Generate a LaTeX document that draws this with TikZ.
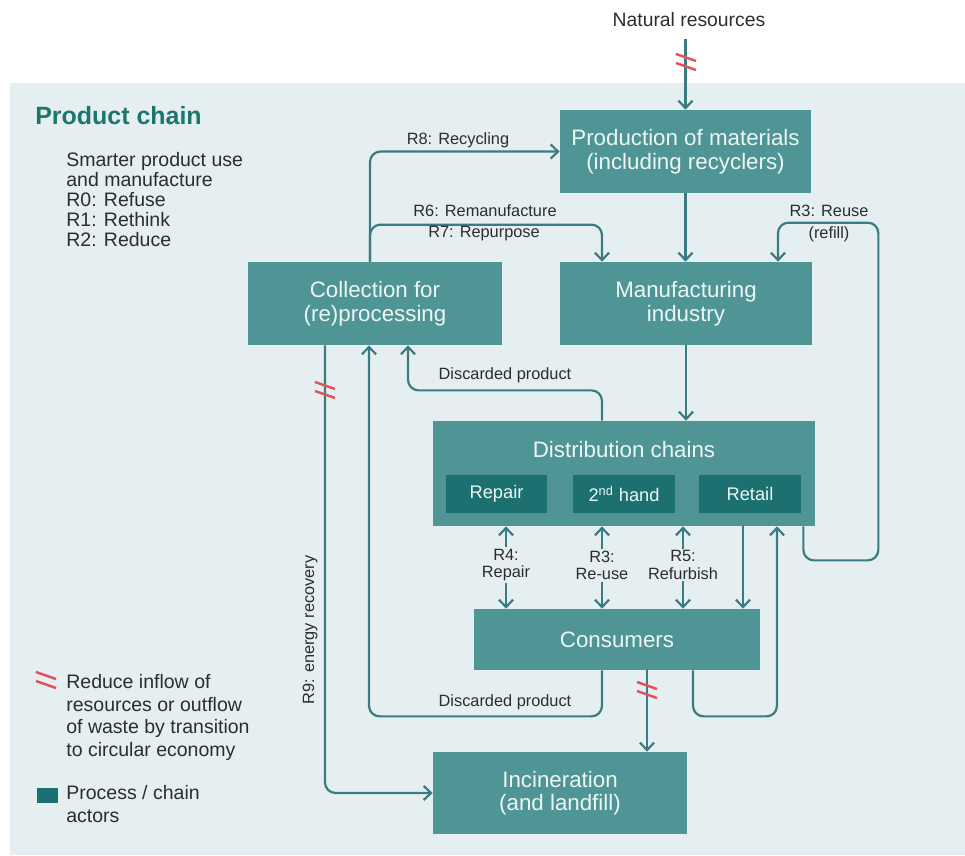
\documentclass[tikz,border=0pt]{standalone}
\usepackage{fontspec}
\setmainfont{Liberation Sans}
\usetikzlibrary{arrows.meta,calc}

\definecolor{panelbg}{RGB}{229,238,240}
\definecolor{boxteal}{RGB}{80,149,150}
\definecolor{darkteal}{RGB}{28,112,112}
\definecolor{flowcol}{RGB}{58,124,130}
\definecolor{cutred}{RGB}{226,82,92}
\definecolor{txtgray}{RGB}{45,45,45}
\definecolor{boxtxt}{RGB}{236,246,244}
\definecolor{titleteal}{RGB}{28,118,108}

\tikzset{
  box/.style={fill=boxteal, text=boxtxt, align=center, inner sep=0pt, font=\fontsize{12.7}{13.4}\selectfont},
  subbox/.style={fill=darkteal, text=boxtxt, inner sep=0pt, minimum width=2.03cm, minimum height=0.76cm, font=\fontsize{10.4}{12}\selectfont},
  flow/.style={draw=flowcol, line width=1.25pt, rounded corners=6pt, -{Straight Barb[length=4.2pt,width=8pt]}},
  lab/.style={text=txtgray, align=center, inner sep=1pt, font=\fontsize{9.3}{9.8}\selectfont},
  legtext/.style={text=txtgray, align=left, inner sep=0pt, anchor=north west},
  cutline/.style={draw=cutred, line width=1.4pt},
}

\begin{document}
\begin{tikzpicture}[x=0.2mm,y=-0.2mm]
  \useasboundingbox (0,0) rectangle (965,855);
  \fill[panelbg] (10,83) rectangle (965,855);

  % chain actors
  \node[box, minimum width=5.02cm, minimum height=1.66cm] (prod) at (685.5,151.5) {Production of materials\\(including recyclers)};
  \node[box, minimum width=5.04cm, minimum height=1.66cm] (manu) at (686,303.5) {Manufacturing\\industry};
  \node[box, minimum width=5.08cm, minimum height=1.66cm] (coll) at (375,303.5) {Collection for\\(re)processing};
  \node[box, minimum width=7.64cm, minimum height=2.10cm] (dist) at (624,473.5) {};
  \node[box] (distlab) at ($(dist.north)+(0,29)$) {Distribution chains};
  \node[subbox] (repair) at (496.5,494) {Repair};
  \node[subbox] (hand) at (624,494) {2\textsuperscript{nd} hand};
  \node[subbox] (retail) at (750,494) {Retail};
  \node[box, minimum width=5.72cm, minimum height=1.22cm] (cons) at (617,639.5) {Consumers};
  \node[box, minimum width=5.08cm, minimum height=1.64cm] (incin) at (560,793) {Incineration\\(and landfill)};

  \node[text=txtgray, font=\fontsize{11}{13}\selectfont] (nat) at (689,20) {Natural resources};

  % flows
  \draw[flow, shorten <=3pt] (nat.south -| prod.north) -- (prod.north);
  \draw[flow] (prod.south) -- (prod.south |- manu.north);
  \draw[flow] (manu.south) -- (manu.south |- dist.north);
  \draw[flow] ($(coll.north)+(-5,0)$) |- (prod.west);
  \draw[flow] ($(coll.north)+(-5,0)$) |- ($(manu.north)+(-84,-37)$) -- ($(manu.north)+(-84,0)$);
  \draw[flow] ($(dist.south east)+(-12,0)$) -- ++(0,34) -| ($(manu.north east)+(66,-39)$) -| ($(manu.north)+(92,0)$);
  \draw[flow] ($(dist.north)+(-22,0)$) |- ($(coll.south)+(33,45)$) -- ($(coll.south)+(33,0)$);
  \draw[flow] ($(cons.south)+(-15,0)$) |- ($(coll.south)+(-6,371)$) -- ($(coll.south)+(-6,0)$);
  \draw[flow] ($(coll.south)+(-50,0)$) |- (incin.west);
  \draw[flow] ($(cons.south)+(30,0)$) -- ($(incin.north)+(87,0)$);
  \draw[flow] ($(dist.south)+(119,0)$) -- ($(cons.north)+(126,0)$);
  \draw[flow] ($(cons.south)+(76,0)$) |- ($(dist.south)+(153,190)$) -- ($(dist.south)+(153,0)$);

  % R-labels
  \node[lab] (r8) at (458,140) {R8: Recycling};
  \node[lab] (r6) at (485,211) {R6: Remanufacture};
  \node[lab] (r7) at (484,234) {R7: Repurpose};
  \node[lab] (r3a) at (829,211) {R3: Reuse};
  \node[lab] (r3b) at (829,234) {(refill)};
  \node[lab] (disc1) at (505,375) {Discarded product};
  \node[lab] (disc2) at (505,702) {Discarded product};
  \node[lab, rotate=90] (r9) at (310,630) {R9: energy recovery};

  \node[lab] (r4) at (506,565) {R4:\\Repair};
  \node[lab] (r3) at (602,565) {R3:\\Re-use};
  \node[lab] (r5) at (683,565) {R5:\\Refurbish};
  \foreach \r in {r4,r3,r5}{
    \draw[flow] (\r.north) -- (\r.north |- dist.south);
    \draw[flow] (\r.south) -- (\r.south |- cons.north);
  }

  % reduce marks
  \foreach \x/\y in {686/62, 325/390, 647/690, 46/680}{
    \draw[cutline, shift={(\x,\y)}] (-10,-8) -- (10,-1) (-10,1) -- (10,8);
  }

  % title and legend
  \node[anchor=west, text=titleteal, inner sep=0pt, font=\fontsize{14.2}{16}\selectfont\bfseries] (title) at (35,116) {Product chain};
  \node[legtext, font=\fontsize{11.1}{11.4}\selectfont] (smart) at (66,152) {Smarter product use\\and manufacture\\R0: Refuse\\R1: Rethink\\R2: Reduce};
  \node[legtext, font=\fontsize{11.1}{12.9}\selectfont] (legcut) at (66,674) {Reduce inflow of\\resources or outflow\\of waste by transition\\to circular economy};
  \node[fill=darkteal, inner sep=0pt, minimum width=0.42cm, minimum height=0.30cm] (legbox) at (47.5,795.5) {};
  \node[legtext, font=\fontsize{11.1}{12.9}\selectfont] (legact) at (66,785) {Process / chain\\actors};
\end{tikzpicture}
\end{document}
